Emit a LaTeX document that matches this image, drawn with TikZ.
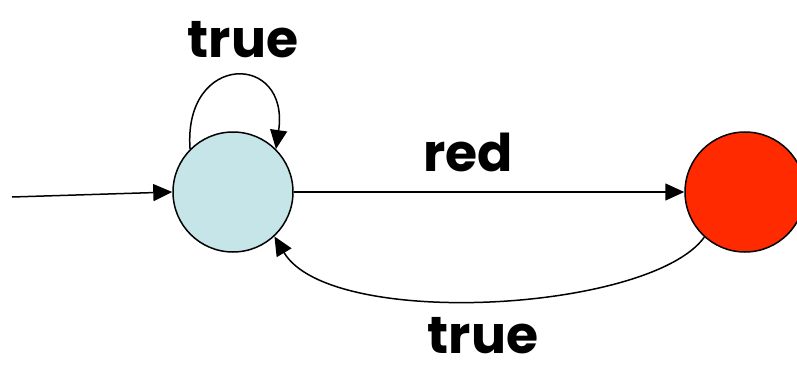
\documentclass[tikz,border=0pt]{standalone}
\usepackage{fontspec}
\setmainfont{Poppins}
\usetikzlibrary{arrows.meta}
\definecolor{stateblue}{HTML}{C5E5E8}
\definecolor{statered}{HTML}{FF2A00}
\tikzset{
  state/.style={circle, draw=black, line width=1.5pt, minimum size=120pt, inner sep=0pt},
  conn/.style={line width=1.5pt, -{Triangle[length=19pt,width=17pt]}},
  lbl/.style={font=\fontsize{52}{58}\selectfont\bfseries, inner sep=0pt}
}
\begin{document}
\begin{tikzpicture}[x=1pt,y=-1pt]
\useasboundingbox (0,0) rectangle (797,369);
\node[state, fill=stateblue] (b) at (233,192) {};
\node[state, fill=statered] (r) at (745,192) {};
\coordinate (init) at (12,197);
\draw[conn] (init) -- (b.west);
\draw[conn] (b.east) -- (r.west);
\draw[conn] (b.135) .. controls (183,52) and (290,52) .. (b.45);
\draw[conn] (r.228) .. controls (650,312) and (330,330) .. (b.313);
\node[lbl] (t1) at (243,40) {true};
\node[lbl] (t2) at (468,152) {red};
\node[lbl] (t3) at (483,336) {true};
\end{tikzpicture}
\end{document}
